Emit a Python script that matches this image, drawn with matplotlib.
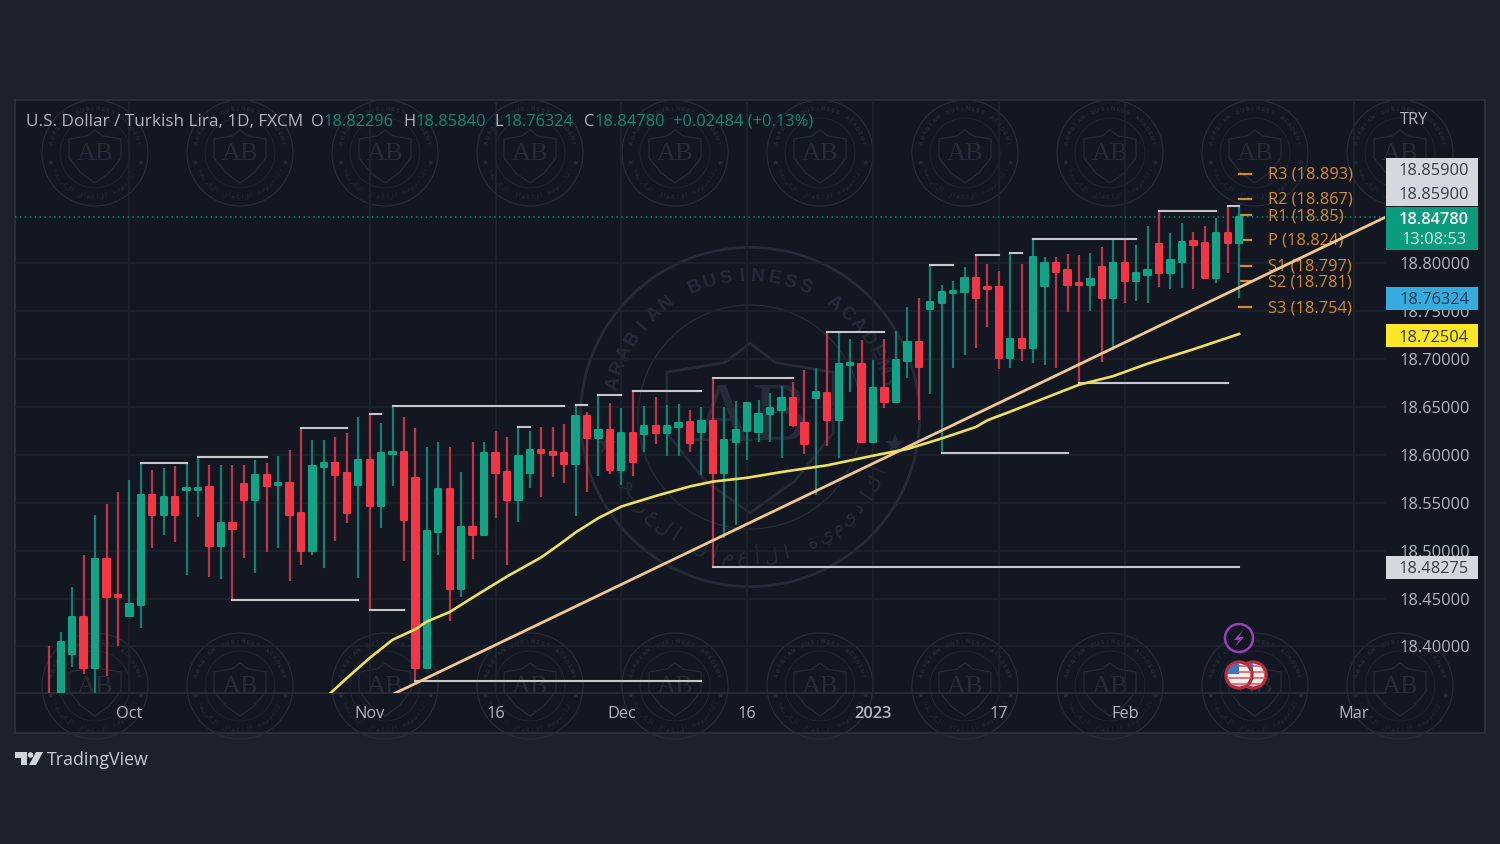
import math
import matplotlib
matplotlib.use("Agg")
import matplotlib.pyplot as plt
from matplotlib.patches import Circle, Polygon, Rectangle

plt.rcParams['font.family'] = ['Open Sans', 'DejaVu Sans']

opens = [18.34, 18.33, 18.392, 18.431, 18.378, 18.491, 18.454, 18.432, 18.443, 18.558,
         18.537, 18.556, 18.563, 18.563, 18.566, 18.505, 18.529, 18.569, 18.553, 18.579,
         18.568, 18.571, 18.539, 18.500, 18.587, 18.591, 18.581, 18.568, 18.595, 18.547,
         18.601, 18.603, 18.576, 18.378, 18.519, 18.564, 18.460, 18.525, 18.516, 18.602,
         18.582, 18.553, 18.581, 18.605, 18.603, 18.602, 18.590, 18.640, 18.617, 18.626,
         18.584, 18.623, 18.622, 18.630, 18.623, 18.629, 18.634, 18.624, 18.635, 18.581,
         18.613, 18.625, 18.624, 18.643, 18.647, 18.659, 18.633, 18.659, 18.664, 18.636,
         18.694, 18.695, 18.613, 18.670, 18.655, 18.698, 18.718, 18.752, 18.758, 18.769,
         18.770, 18.784, 18.775, 18.775, 18.701, 18.721, 18.711, 18.776, 18.800, 18.793,
         18.779, 18.777, 18.796, 18.763, 18.800, 18.781, 18.787, 18.820, 18.790, 18.801,
         18.823, 18.821, 18.784, 18.831, 18.821]
highs = [18.400, 18.415, 18.462, 18.495, 18.537, 18.549, 18.561, 18.574, 18.591, 18.584,
         18.586, 18.588, 18.591, 18.598, 18.589, 18.589, 18.589, 18.589, 18.595, 18.591,
         18.599, 18.605, 18.628, 18.615, 18.615, 18.618, 18.623, 18.639, 18.643, 18.633,
         18.651, 18.639, 18.628, 18.608, 18.613, 18.608, 18.582, 18.613, 18.613, 18.625,
         18.619, 18.629, 18.625, 18.629, 18.629, 18.632, 18.652, 18.645, 18.662, 18.654,
         18.649, 18.666, 18.651, 18.660, 18.652, 18.653, 18.647, 18.650, 18.680, 18.650,
         18.656, 18.654, 18.657, 18.664, 18.672, 18.676, 18.688, 18.690, 18.728, 18.727,
         18.721, 18.720, 18.699, 18.721, 18.729, 18.754, 18.763, 18.798, 18.777, 18.781,
         18.796, 18.808, 18.799, 18.792, 18.810, 18.799, 18.825, 18.806, 18.806, 18.809,
         18.808, 18.810, 18.817, 18.825, 18.825, 18.819, 18.839, 18.854, 18.831, 18.842,
         18.832, 18.839, 18.847, 18.859, 18.859]
lows = [18.32, 18.32, 18.379, 18.371, 18.34, 18.369, 18.400, 18.432, 18.419, 18.503,
        18.516, 18.509, 18.475, 18.535, 18.472, 18.470, 18.449, 18.492, 18.477, 18.499,
        18.503, 18.468, 18.485, 18.495, 18.482, 18.510, 18.529, 18.471, 18.438, 18.524,
        18.567, 18.489, 18.364, 18.378, 18.495, 18.427, 18.452, 18.491, 18.516, 18.534,
        18.485, 18.530, 18.565, 18.556, 18.577, 18.571, 18.536, 18.561, 18.578, 18.580,
        18.568, 18.578, 18.603, 18.611, 18.599, 18.599, 18.603, 18.579, 18.483, 18.513,
        18.527, 18.595, 18.613, 18.613, 18.597, 18.629, 18.601, 18.558, 18.609, 18.597,
        18.665, 18.613, 18.613, 18.649, 18.655, 18.680, 18.636, 18.663, 18.602, 18.690,
        18.704, 18.711, 18.733, 18.689, 18.690, 18.698, 18.696, 18.694, 18.690, 18.749,
        18.675, 18.750, 18.697, 18.709, 18.758, 18.760, 18.758, 18.775, 18.773, 18.774,
        18.773, 18.784, 18.779, 18.790, 18.763]
closes = [18.33, 18.405, 18.431, 18.378, 18.491, 18.452, 18.452, 18.444, 18.558, 18.537,
          18.556, 18.537, 18.565, 18.565, 18.505, 18.529, 18.523, 18.553, 18.579, 18.567,
          18.571, 18.537, 18.500, 18.588, 18.591, 18.579, 18.539, 18.595, 18.547, 18.602,
          18.603, 18.532, 18.378, 18.520, 18.564, 18.460, 18.525, 18.516, 18.602, 18.581,
          18.553, 18.599, 18.605, 18.602, 18.600, 18.590, 18.640, 18.617, 18.626, 18.584,
          18.623, 18.592, 18.630, 18.623, 18.630, 18.633, 18.612, 18.635, 18.581, 18.615,
          18.626, 18.654, 18.643, 18.649, 18.659, 18.631, 18.611, 18.665, 18.636, 18.695,
          18.696, 18.613, 18.670, 18.655, 18.699, 18.718, 18.692, 18.759, 18.770, 18.771,
          18.784, 18.763, 18.773, 18.701, 18.721, 18.711, 18.806, 18.800, 18.791, 18.777,
          18.777, 18.783, 18.763, 18.800, 18.781, 18.790, 18.793, 18.790, 18.803, 18.822,
          18.819, 18.784, 18.831, 18.821, 18.848]

# brackets: start candle, end candle
high_starts = [8, 13, 22, 28, 30, 41, 46, 48, 51, 58, 68, 77, 81, 84, 86, 97, 103]
high_ends = [12, 19, 26, 29, 45, 42, 47, 50, 57, 65, 73, 79, 83, 85, 95, 102, 104]
low_starts = [16, 28, 32, 58, 78, 90]
low_ends = [27, 31, 57, 104, 89, 103]

ma_idx = [24, 26, 28, 30, 32, 33, 35, 37, 40, 43, 45, 46, 48, 50, 53, 56, 58, 61, 64, 68, 72, 75,
          78, 81, 82, 84, 87, 90, 93, 96, 100, 104]
ma_vals = [18.345, 18.367, 18.388, 18.407, 18.418, 18.426, 18.436, 18.451, 18.473, 18.493, 18.510,
           18.519, 18.534, 18.546, 18.557, 18.567, 18.572, 18.576, 18.582, 18.589, 18.599, 18.606,
           18.617, 18.629, 18.636, 18.645, 18.659, 18.673, 18.682, 18.695, 18.710, 18.726]
trend_idx = [30, 117]
trend_vals = [18.350, 18.849]

pivot_names = ['R3', 'R2', 'R1', 'P', 'S1', 'S2', 'S3']
pivot_vals = [18.893, 18.867, 18.85, 18.824, 18.797, 18.781, 18.754]

price_ticks = [18.40, 18.45, 18.50, 18.55, 18.60, 18.65, 18.70, 18.75, 18.80]
date_ticks = [7, 28, 39, 50, 61, 72, 83, 94, 114]
date_labels = ['Oct', 'Nov', '16', 'Dec', '16', '2023', '17', 'Feb', 'Mar']
last_price = 18.8478

BG = '#1d212c'
PANEL = '#131722'
GRID = '#1f232e'
MARK = '#272b37'
TXT = '#b2b5be'
UP = '#12a386'
DOWN = '#f23645'
UP_WICK = '#13806f'
DOWN_WICK = '#bd3647'
TEAL = '#0b8a72'
ORANGE = '#d68a2e'


def arc_text(ax, cx, cy, r, txt, a0, a1, size, color, flip=False, font='Liberation Sans'):
    for k, ch in enumerate(txt):
        a = a0 + (a1 - a0) * k / (len(txt) - 1)
        rot = 180 - a if flip else -a
        ax.text(cx + r * math.sin(math.radians(a)), cy - r * math.cos(math.radians(a)), ch,
                rotation=rot, ha='center', va='center', fontsize=size, color=color,
                family=[font], fontweight='bold' if not flip else 'normal')


def logo(ax, cx, cy, s, lw, color):
    ax.add_patch(Circle((cx, cy), 53 * s, fill=False, ec=color, lw=lw))
    ax.add_patch(Circle((cx, cy), 35 * s, fill=False, ec=color, lw=lw * 0.5))
    shield = [(0, -23), (-8, -17), (-26, -14), (-26, 5), (-14, 20), (0, 30),
              (14, 20), (26, 5), (26, -14), (8, -17)]
    ax.add_patch(Polygon([(cx + a * s, cy + b * s) for a, b in shield], fill=False, ec=color, lw=lw))
    ax.text(cx, cy + 1 * s, 'AB', ha='center', va='center', fontsize=19 * s, color=color,
            family=['Liberation Serif'])
    arc_text(ax, cx, cy, 44 * s, 'ARABIAN BUSINESS ACADEMY', -76, 76, 4.2 * s, color)
    arc_text(ax, cx, cy, 44 * s, 'أكاديمية الأعمال العربية', 112, 248, 4.4 * s, color,
             flip=True, font='DejaVu Sans')
    for side in (-1, 1):
        ax.text(cx + side * 45 * s, cy + 9 * s, '★', ha='center', va='center',
                fontsize=6 * s, color=color, family=['DejaVu Sans'])


fig = plt.figure(figsize=(15, 8.44), dpi=100, facecolor=BG)

# background layer in pixels: panel and watermark
bg = fig.add_axes([0, 0, 1, 1], zorder=0)
bg.set_xlim(0, 1500)
bg.set_ylim(844, 0)
bg.axis('off')
bg.add_patch(Rectangle((15, 100), 1470, 633, fc=PANEL, ec='#2a2e39', lw=1.5))
bg.plot([15, 1385], [693, 693], color='#2a2e39', lw=1.2)

# main chart
ax = fig.add_axes([15 / 1500, (844 - 693) / 844, 1370 / 1500, 593 / 844], zorder=1)
ax.patch.set_alpha(0)
ax.set_xlim(-3, 116.75)
ax.set_ylim(18.3515, 18.970)
for sp in ax.spines.values():
    sp.set_visible(False)
ax.set_axisbelow(True)
ax.grid(True, color=GRID, lw=1.1)
ax.yaxis.tick_right()
ax.set_yticks(price_ticks)
ax.set_yticklabels(['%.5f' % p for p in price_ticks], fontsize=11.8, color=TXT)
ax.set_xticks(date_ticks)
ax.set_xticklabels(date_labels, fontsize=11.8, color=TXT)
ax.tick_params(length=0)
ax.tick_params(axis='y', pad=10.5)
ax.tick_params(axis='x', pad=9)
ax.get_xticklabels()[5].set_fontweight('semibold')

for cx in [95, 240, 385, 530, 675, 820, 965, 1110, 1255, 1400]:
    for cy in [153, 686]:
        logo(bg, cx, cy, 1, 0.9, MARK)
logo(bg, 750, 417, 3.2, 2, MARK)

idx = list(range(len(opens)))
body_col = [UP if c >= o else DOWN for o, c in zip(opens, closes)]
wick_col = [UP_WICK if c >= o else DOWN_WICK for o, c in zip(opens, closes)]
ax.vlines(idx, lows, highs, colors=wick_col, lw=1.6, zorder=3)
ax.bar(idx, [abs(c - o) for o, c in zip(opens, closes)],
       bottom=[min(o, c) for o, c in zip(opens, closes)],
       width=0.55, color=body_col, edgecolor=body_col, lw=1.5, joinstyle='round', zorder=4)

for s, e in zip(high_starts, high_ends):
    ax.plot([s, e], [highs[s], highs[s]], color='#c6c8ce', lw=1.5, zorder=5)
for s, e in zip(low_starts, low_ends):
    ax.plot([s, e], [lows[s], lows[s]], color='#c6c8ce', lw=1.5, zorder=5)

ax.plot(trend_idx, trend_vals, color='#f0c78f', lw=2.0, zorder=6)
ax.plot(ma_idx, ma_vals, color='#ece15a', lw=1.9, zorder=6)
ax.axhline(last_price, color=TEAL, lw=1.1, ls=(0, (1, 2.2)), zorder=2)

for name, val in zip(pivot_names, pivot_vals):
    ax.plot([104, 105], [val, val], color=ORANGE, lw=1.6, zorder=2)
    ax.text(106.55, val - 0.001, '%s (%s)' % (name, ('%.3f' % val).rstrip('0')), color=ORANGE,
            fontsize=11.8, va='center', ha='left', zorder=5)

# top layer in pixels: legend, price tags, events
top = fig.add_axes([0, 0, 1, 1], zorder=2)
top.set_xlim(0, 1500)
top.set_ylim(844, 0)
top.axis('off')

top.text(26, 122, 'U.S. Dollar / Turkish Lira, 1D, FXCM', color=TXT, fontsize=12.3, va='center')
legend_keys = [('O', 311, '18.82296', 323), ('H', 403, '18.85840', 415),
               ('L', 494, '18.76324', 503), ('C', 584, '18.84780', 594)]
for key, kx, val, vx in legend_keys:
    top.text(kx, 122, key, color=TXT, fontsize=11.8, va='center')
    top.text(vx, 122, val, color=TEAL, fontsize=11.8, va='center')
top.text(673, 122, '+0.02484 (+0.13%)', color=TEAL, fontsize=11.8, va='center')
top.text(1414, 120, 'TRY', color=TXT, fontsize=11.8, va='center', ha='center')

tags = [(158, 206, '#d6d8df'), (207, 250, '#0a9c7d'), (287, 310, '#36abe0'),
        (324, 347, '#fbe72a'), (556, 579, '#d6d8df')]
for y0, y1, col in tags:
    top.add_patch(Rectangle((1386, y0), 92, y1 - y0, fc=col, ec='none', zorder=3))
tag_text = [(171, '18.85900', '#3a3e4a'), (195, '18.85900', '#3a3e4a'), (220, '18.84780', '#ffffff'),
            (240, '13:08:53', '#d5f2ea'), (300, '18.76324', '#17384f'), (338, '18.72504', '#3a3a20'),
            (569, '18.48275', '#3a3e4a')]
for y, label, col in tag_text:
    top.text(1434, y, label, color=col, fontsize=11.8, va='center', ha='center', zorder=4,
             fontweight='semibold' if y == 220 else 'normal')

# event icons
top.add_patch(Circle((1239, 638), 14, fc=PANEL, ec='#9a3fb8', lw=1.8))
top.add_patch(Polygon([(1243, 630), (1234, 640), (1239, 640), (1235, 647), (1244, 637), (1239, 637)],
                      fc='#9a3fb8', ec='none'))
for fx in [1253, 1239]:
    disc = Circle((fx, 675), 13, fc='#f4eeee', ec='#b52c3a', lw=2.4, zorder=5)
    top.add_patch(disc)
    for sy in [666, 672, 678, 684]:
        stripe = Rectangle((fx - 14, sy - 1.2), 28, 2.6, fc='#e2747c', ec='none', zorder=5)
        top.add_patch(stripe)
        stripe.set_clip_path(Circle((fx, 675), 12, transform=top.transData))
    canton = Rectangle((fx - 13, 662), 13, 12, fc='#4a72b8', ec='none', zorder=5)
    top.add_patch(canton)
    canton.set_clip_path(Circle((fx, 675), 12, transform=top.transData))

# TradingView mark
mark_col = '#d1d4dc'
top.add_patch(Polygon([(15, 752), (27, 752), (27, 765), (21, 765), (21, 758), (15, 758)], fc=mark_col, ec='none'))
top.add_patch(Circle((30.5, 755), 2.8, fc=mark_col, ec='none'))
top.add_patch(Polygon([(36, 752), (43, 752), (36, 765), (29, 765)], fc=mark_col, ec='none'))
top.text(47, 760, 'TradingView', color='#c8cbd3', fontsize=12.8, va='center', fontweight='medium')

fig.savefig('out.png', dpi=100, facecolor=BG)
